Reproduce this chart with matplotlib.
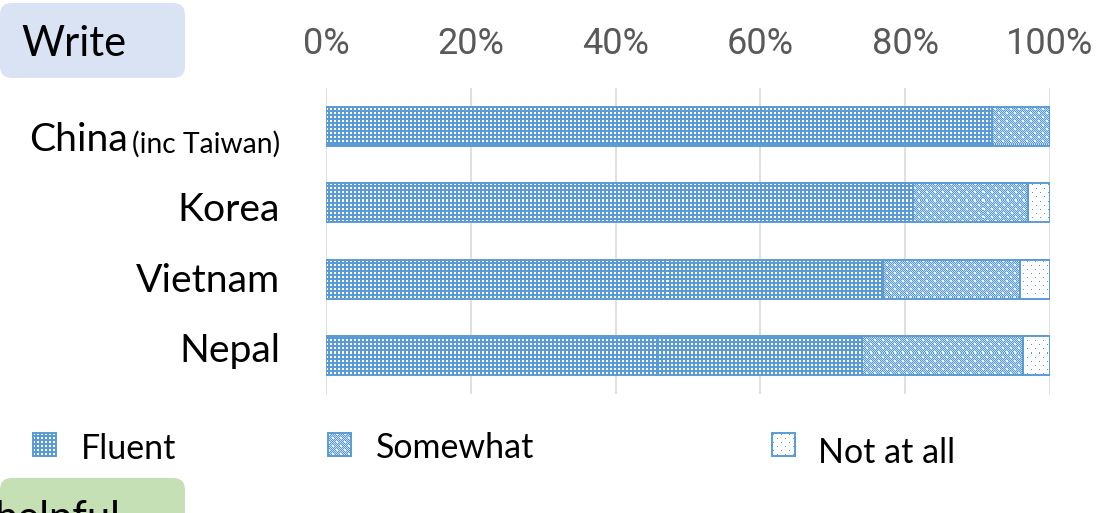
import numpy as np
import matplotlib
matplotlib.use("Agg")
import matplotlib.pyplot as plt
from matplotlib.patches import FancyBboxPatch, Rectangle

# ---- data -------------------------------------------------------------
categories = ["China", "Korea", "Vietnam", "Nepal"]
category_notes = ["(inc Taiwan)", "", "", ""]
fluent = [92.0, 81.1, 77.0, 74.1]
somewhat = [8.0, 15.8, 18.9, 22.2]
not_at_all = [0.0, 3.1, 4.1, 3.7]
series_names = ["Fluent", "Somewhat", "Not at all"]
x_ticks = [0, 20, 40, 60, 80, 100]
x_tick_labels = ["0%", "20%", "40%", "60%", "80%", "100%"]
panel_title = "Write"
next_panel_title = "helpful"

# ---- style --------------------------------------------------------------
BLUE_RGB = (91, 155, 213)
BLUE = "#5b9bd5"
GRID = "#d9d9d9"
TICK_GREY = "#595959"
TXT_FONT = ["Lato", "DejaVu Sans"]
TICK_FONT = ["Roboto", "DejaVu Sans"]

W_PX, H_PX = 1102, 513


def pattern(kind, h, w):
    """Pixel fill pattern (RGB uint8) for one response level."""
    yy, xx = np.mgrid[0:h, 0:w]
    img = np.full((h, w, 3), 255, dtype=np.uint8)
    if kind == "Fluent":
        blue = ~(((xx % 4) < 2) & ((yy % 4) < 2))
    elif kind == "Somewhat":
        img[:] = (196, 220, 242)
        blue = (xx + yy) % 2 == 0
        spot = (((xx % 8) < 2) & ((yy % 8) < 2)) | \
               ((((xx + 4) % 8) < 2) & (((yy + 4) % 8) < 2))
        blue &= ~spot
        img[spot] = (236, 243, 250)
    else:
        stagger = np.where((yy // 4) % 2 == 0, 1, 5)
        blue = (yy % 4 == 1) & ((xx % 8) == stagger)
    img[blue] = BLUE_RGB
    return img


fig = plt.figure(figsize=(W_PX / 100, H_PX / 100), dpi=100)

# overlay in pixel units for the panel boxes, labels and legend
ov = fig.add_axes([0, 0, 1, 1])
ov.set_xlim(0, W_PX)
ov.set_ylim(H_PX, 0)
ov.axis("off")

# main chart axes
left, right, top, bottom = 326, 1050, 88, 394
ax = fig.add_axes([left / W_PX, 1 - bottom / H_PX,
                   (right - left) / W_PX, (bottom - top) / H_PX])

y = np.arange(len(categories))
series = [fluent, somewhat, not_at_all]
starts = np.zeros(len(categories))
bbox = ax.get_window_extent()
ph, pw = int(round(bbox.height)), int(round(bbox.width))
dx, dy = 0.3 / pw, 0.3 / ph
for name, vals in zip(series_names, series):
    bars = ax.barh(y, vals, left=starts, height=0.51, facecolor="none",
                   edgecolor=BLUE, linewidth=1.4, zorder=3)
    tex = pattern(name, ph, pw)
    for b in bars:
        im = ax.imshow(tex, transform=ax.transAxes,
                       extent=[dx, 1 + dx, -dy, 1 - dy],
                       interpolation="nearest", aspect="auto", zorder=2)
        im.set_clip_path(b)
    starts = starts + np.array(vals)

ax.set_xlim(0, 100)
ax.set_ylim(len(categories) - 0.5, -0.5)
ax.set_axisbelow(True)
ax.grid(axis="x", color=GRID, linewidth=1.2)
ax.grid(axis="y", visible=False)
for s in ax.spines.values():
    s.set_visible(False)
ax.xaxis.tick_top()
ax.set_xticks(x_ticks)
ax.set_xticklabels(x_tick_labels, family=TICK_FONT, fontsize=26,
                   fontweight="normal", color=TICK_GREY)
ax.tick_params(axis="x", length=0, pad=19)
ax.set_yticks([])

# category labels
renderer = fig.canvas.get_renderer()
label_right = 280
for i, (cat, note) in enumerate(zip(categories, category_notes)):
    yc = 140 + i * 70.4
    xr = label_right
    if note:
        t = ov.text(xr, yc + 4, note, ha="right", va="center",
                    family=TXT_FONT, fontsize=20.3, color="black")
        wbox = t.get_window_extent(renderer)
        xr = xr - wbox.width - 4
    ov.text(xr, yc, cat, ha="right", va="center", family=TXT_FONT,
            fontsize=28.2, color="black")

# panel title boxes
ov.add_patch(FancyBboxPatch((0, 3), 185, 75,
                            boxstyle="round,pad=0,rounding_size=12",
                            facecolor="#dae3f3", edgecolor="none"))
ov.text(21, 44, panel_title, ha="left", va="center", family=TXT_FONT,
        fontsize=30, color="black")
ov.add_patch(FancyBboxPatch((0, 478), 185, 80,
                            boxstyle="round,pad=0,rounding_size=12",
                            facecolor="#c5e0b4", edgecolor="none"))
ov.text(-6, 531, next_panel_title, ha="left", va="baseline",
        family=TXT_FONT, fontsize=30, color="black")

# legend
legend_items = [(33, 81, 459), (328, 376, 458), (772, 818, 463)]
for name, (mx, tx, tb) in zip(series_names, legend_items):
    ov.imshow(pattern(name, 23, 23), extent=[mx, mx + 23, 433 + 23, 433],
              interpolation="nearest", aspect="auto", zorder=2)
    ov.add_patch(Rectangle((mx, 433), 23, 23, fill=False, edgecolor=BLUE,
                           linewidth=1.4, zorder=3))
    ov.text(tx, tb, name, ha="left", va="baseline", family=TXT_FONT,
            fontsize=24.5, color="black")
ov.set_xlim(0, W_PX)
ov.set_ylim(H_PX, 0)

fig.savefig("out.png", dpi=100)
